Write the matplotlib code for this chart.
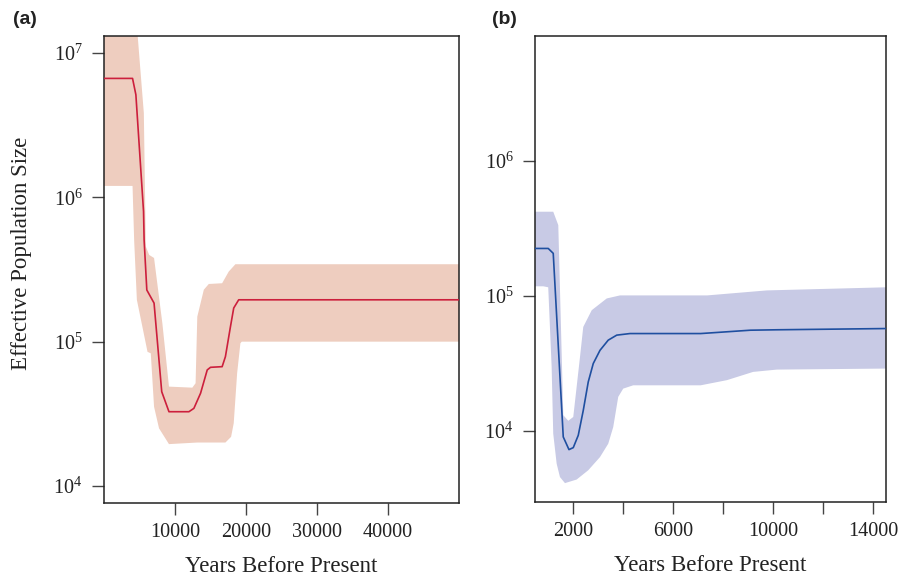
import numpy as np
import matplotlib
matplotlib.use("Agg")
import matplotlib.pyplot as plt
from matplotlib.ticker import FixedLocator, FuncFormatter, NullLocator

plt.rcParams['font.family'] = ['Liberation Serif', 'DejaVu Serif']
plt.rcParams['mathtext.fontset'] = 'custom'
plt.rcParams['mathtext.rm'] = 'Liberation Serif'
plt.rcParams['mathtext.it'] = 'Liberation Serif:italic'
plt.rcParams['mathtext.bf'] = 'Liberation Serif:bold'

# ---------------- Panel (a) data ----------------
a_med_x = [0, 4020, 4490, 5570, 5650, 6030, 7050, 8130, 9150, 11960, 12660,
           13600, 14540, 15000, 16640, 17100, 17810, 18270, 18970, 50000]
a_med_y = [6.67e6, 6.67e6, 5.14e6, 7.98e5, 5.07e5, 2.28e5, 1.85e5, 4.50e4, 3.27e4,
           3.27e4, 3.45e4, 4.39e4, 6.37e4, 6.64e4, 6.71e4, 7.87e4, 1.27e5, 1.71e5,
           1.95e5, 1.95e5]
a_up_x = [0, 4650, 5610, 5890, 6360, 7050, 8220, 9150, 12440, 12900, 13140,
          14060, 14760, 16640, 17570, 18510, 50000]
a_up_y = [1.5e7, 1.5e7, 3.84e6, 4.56e5, 3.99e5, 3.80e5, 1.34e5, 4.88e4, 4.80e4,
          5.15e4, 1.49e5, 2.29e5, 2.51e5, 2.54e5, 3.06e5, 3.44e5, 3.44e5]
a_lo_x = [0, 4020, 4250, 4630, 6130, 6590, 7050, 7750, 9150, 13140, 17100, 17900,
          18270, 18750, 19210, 19400, 50000]
a_lo_y = [1.2e6, 1.2e6, 5.0e5, 1.95e5, 8.5e4, 8.3e4, 3.54e4, 2.51e4, 1.95e4, 2.0e4,
          2.0e4, 2.19e4, 2.72e4, 6.04e4, 9.75e4, 1.0e5, 1.0e5]

# ---------------- Panel (b) data ----------------
b_med_x = [468, 998, 1198, 1599, 1828, 2000, 2200, 2400, 2600, 2800, 3070, 3400,
           3740, 4270, 7100, 7760, 9090, 10150, 14520]
b_med_y = [2.25e5, 2.25e5, 2.07e5, 9.04e3, 7.28e3, 7.53e3, 9.29e3, 1.42e4, 2.31e4,
           3.16e4, 3.96e4, 4.71e4, 5.13e4, 5.27e4, 5.27e4, 5.37e4, 5.58e4, 5.62e4, 5.74e4]
b_up_x = [468, 1198, 1400, 1600, 1800, 2000, 2270, 2400, 2740, 3340, 3870, 7360,
          9750, 14520]
b_up_y = [4.21e5, 4.21e5, 3.35e5, 1.31e4, 1.19e4, 1.27e4, 3.54e4, 5.90e4, 7.85e4,
          9.59e4, 1.01e5, 1.01e5, 1.10e5, 1.16e5]
b_lo_x = [468, 800, 998, 1134, 1198, 1335, 1467, 1667, 2136, 2600, 3070, 3400, 3600,
          3800, 4000, 4400, 7100, 8150, 9200, 10150, 14520]
b_lo_y = [1.18e5, 1.18e5, 1.16e5, 2.99e4, 9.55e3, 5.73e3, 4.56e3, 4.11e3, 4.37e3,
          5.12e3, 6.41e3, 8.05e3, 1.07e4, 1.79e4, 2.06e4, 2.18e4, 2.18e4, 2.38e4,
          2.74e4, 2.85e4, 2.90e4]

a_xticks = [10000, 20000, 30000, 40000]
b_xticks = [2000, 4000, 6000, 8000, 10000, 12000, 14000]
b_xtick_labels = ['2000', '', '6000', '', '10000', '', '14000']
a_yticks = [1e4, 1e5, 1e6, 1e7]
b_yticks = [1e4, 1e5, 1e6]

FILL_A = '#eecdbf'
LINE_A = '#cc1f3c'
FILL_B = '#c8cae5'
LINE_B = '#1f4fa0'
DARK = '#222222'

W, H = 908, 577
fig = plt.figure(figsize=(W / 100, H / 100), dpi=100)

ax_a = fig.add_axes([104 / W, 1 - 503 / H, (459 - 104) / W, (503 - 36) / H])
ax_b = fig.add_axes([535 / W, 1 - 502 / H, (886 - 535) / W, (502 - 36) / H])


def band(ax, ux, uy, lx, ly, color):
    px = np.concatenate([np.asarray(ux, float), np.asarray(lx, float)[::-1]])
    py = np.concatenate([np.asarray(uy, float), np.asarray(ly, float)[::-1]])
    ax.fill(px, py, color=color, lw=0, zorder=1)


def pow_fmt(v, pos):
    e = int(round(np.log10(v)))
    return r'$\mathregular{10^{%d}}$' % e


for ax in (ax_a, ax_b):
    ax.set_yscale('log')
    for s in ax.spines.values():
        s.set_color(DARK)
        s.set_linewidth(1.1)
    ax.tick_params(axis='both', which='major', direction='out', length=8.5,
                   width=1.0, color='#444444', labelcolor=DARK, labelsize=14.5)
    ax.tick_params(axis='x', pad=6)
    ax.tick_params(axis='y', pad=7)
    ax.yaxis.set_minor_locator(NullLocator())
    ax.xaxis.set_minor_locator(NullLocator())
    ax.yaxis.set_major_formatter(FuncFormatter(pow_fmt))
    ax.set_xlabel('Years Before Present', fontsize=16.5, color=DARK, labelpad=10)

# panel a
band(ax_a, a_up_x, a_up_y, a_lo_x, a_lo_y, FILL_A)
ax_a.plot(a_med_x, a_med_y, color=LINE_A, lw=1.2, zorder=3)
ax_a.set_xlim(0, 50000)
ax_a.set_ylim(10 ** 3.882, 10 ** 7.118)
ax_a.xaxis.set_major_locator(FixedLocator(a_xticks))
ax_a.xaxis.set_major_formatter(FuncFormatter(lambda v, p: '%d' % v))
ax_a.yaxis.set_major_locator(FixedLocator(a_yticks))

# panel b
band(ax_b, b_up_x, b_up_y, b_lo_x, b_lo_y, FILL_B)
ax_b.plot(b_med_x, b_med_y, color=LINE_B, lw=1.2, zorder=3)
ax_b.set_xlim(468, 14520)
ax_b.set_ylim(10 ** 3.474, 10 ** 6.926)
ax_b.xaxis.set_major_locator(FixedLocator(b_xticks))
ax_b.set_xticklabels(b_xtick_labels)
ax_b.yaxis.set_major_locator(FixedLocator(b_yticks))

fig.text(22 / W, 1 - 253 / H, 'Effective Population Size', rotation=90,
         ha='center', va='center', fontsize=16.5, color=DARK)

fig.text(13 / W, 1 - 20 / H, '(a)', ha='left', va='center', fontsize=14,
         fontweight='bold', family=['Liberation Sans', 'DejaVu Sans'], color=DARK)
fig.text(492 / W, 1 - 20 / H, '(b)', ha='left', va='center', fontsize=14,
         fontweight='bold', family=['Liberation Sans', 'DejaVu Sans'], color=DARK)

fig.savefig('out.png', dpi=100)
